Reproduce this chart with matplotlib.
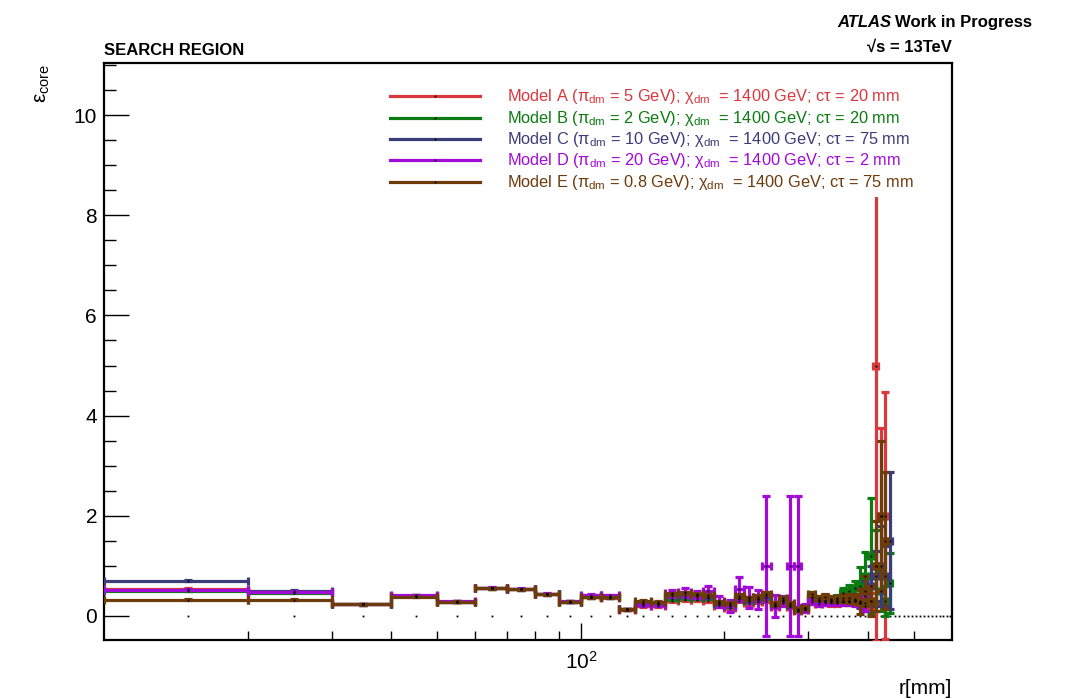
import numpy as np
import matplotlib
matplotlib.use("Agg")
import matplotlib.pyplot as plt
from matplotlib.ticker import FixedLocator, FixedFormatter, NullFormatter
from matplotlib.patches import Rectangle

plt.rcParams['font.family'] = ['Liberation Sans', 'DejaVu Sans']
plt.rcParams['mathtext.fontset'] = 'custom'
plt.rcParams['mathtext.rm'] = 'Liberation Sans'
plt.rcParams['mathtext.it'] = 'Liberation Sans:italic'
plt.rcParams['mathtext.bf'] = 'Liberation Sans:bold'

nan = np.nan

# binning: 10 mm bins, filled from 10 to 450 mm, axis up to 600 mm
edges = np.arange(10, 460, 10)
centers = (edges[:-1] + edges[1:]) / 2
all_centers = np.arange(15, 600, 10)

labels = [
    "Model A (\u03c0$_{\\rm dm}$ = 5 GeV); \u03c7$_{\\rm dm}$  = 1400 GeV; c\u03c4 = 20 mm",
    "Model B (\u03c0$_{\\rm dm}$ = 2 GeV); \u03c7$_{\\rm dm}$  = 1400 GeV; c\u03c4 = 20 mm",
    "Model C (\u03c0$_{\\rm dm}$ = 10 GeV); \u03c7$_{\\rm dm}$  = 1400 GeV; c\u03c4 = 75 mm",
    "Model D (\u03c0$_{\\rm dm}$ = 20 GeV); \u03c7$_{\\rm dm}$  = 1400 GeV; c\u03c4 = 2 mm",
    "Model E (\u03c0$_{\\rm dm}$ = 0.8 GeV); \u03c7$_{\\rm dm}$  = 1400 GeV; c\u03c4 = 75 mm",
]
colors = ['#d9383e', '#0b7c12', '#3b3d78', '#a20ad8', '#6e3b0b']

model_a = [0.54, 0.48, 0.23, 0.40, 0.28, 0.55, 0.53, 0.43, 0.28, 0.37,
           0.36, 0.12, 0.20, 0.20, 0.30, 0.32, 0.32, 0.30, 0.20, 0.15,
           0.30, 0.25, 0.28, 0.30, 0.18, 0.25, 0.18, 0.10, 0.12, 0.28,
           0.24, 0.25, 0.25, 0.25, 0.28, 0.28, 0.30, 0.25, 0.20, 0.30,
           5.00, 2.00, 2.00, nan]
err_a = [0.01, 0.01, 0.01, 0.01, 0.01, 0.01, 0.01, 0.01, 0.01, 0.01,
         0.01, 0.01, 0.02, 0.02, 0.02, 0.02, 0.02, 0.02, 0.02, 0.02,
         0.03, 0.03, 0.03, 0.03, 0.03, 0.03, 0.03, 0.03, 0.03, 0.04,
         0.04, 0.04, 0.05, 0.05, 0.06, 0.07, 0.08, 0.08, 0.10, 0.15,
         5.50, 1.75, 2.47, nan]

model_b = [0.50, 0.46, 0.23, 0.40, 0.28, 0.55, 0.53, 0.43, 0.28, 0.37,
           0.37, 0.13, 0.24, 0.24, 0.34, 0.36, 0.36, 0.36, 0.24, 0.20,
           0.34, 0.30, 0.32, 0.36, 0.22, 0.30, 0.22, 0.12, 0.15, 0.36,
           0.30, 0.30, 0.32, 0.35, 0.45, 0.50, 0.55, 0.60, 0.80, 1.20,
           1.00, 0.50, 0.30, 0.66]
err_b = [0.01, 0.01, 0.01, 0.01, 0.01, 0.01, 0.01, 0.01, 0.01, 0.01,
         0.01, 0.01, 0.02, 0.02, 0.02, 0.02, 0.02, 0.02, 0.02, 0.02,
         0.03, 0.03, 0.03, 0.03, 0.03, 0.03, 0.03, 0.03, 0.03, 0.04,
         0.04, 0.04, 0.05, 0.06, 0.10, 0.12, 0.15, 0.38, 0.48, 1.15,
         0.72, 0.40, 0.30, 0.60]

model_c = [0.70, 0.50, 0.23, 0.40, 0.28, 0.55, 0.53, 0.43, 0.28, 0.37,
           0.37, 0.13, 0.26, 0.25, 0.40, 0.40, 0.40, 0.38, 0.26, 0.22,
           0.36, 0.32, 0.34, 0.40, 0.22, 0.32, 0.22, 0.14, 0.16, 0.38,
           0.32, 0.30, 0.30, 0.30, 0.30, 0.30, 0.32, 0.25, 0.40, 0.60,
           0.80, 1.00, 0.80, 1.50]
err_c = [0.01, 0.01, 0.01, 0.01, 0.01, 0.01, 0.01, 0.01, 0.01, 0.01,
         0.01, 0.01, 0.02, 0.02, 0.02, 0.02, 0.02, 0.02, 0.02, 0.02,
         0.03, 0.03, 0.03, 0.03, 0.03, 0.03, 0.03, 0.03, 0.03, 0.04,
         0.04, 0.04, 0.05, 0.05, 0.06, 0.07, 0.08, 0.10, 0.30, 0.40,
         0.50, 0.80, 0.60, 1.37]

model_d = [0.52, 0.48, 0.23, 0.41, 0.29, 0.56, 0.54, 0.44, 0.29, 0.42,
           0.41, 0.13, 0.22, 0.22, 0.45, 0.47, 0.42, 0.50, 0.29, 0.20,
           0.54, 0.37, 0.33, 1.00, 0.20, 0.30, 1.00, 1.00, 0.15, 0.32,
           0.28, 0.30, 0.30, 0.30, 0.30, 0.30, 0.30, 0.30, 0.25, nan,
           nan, nan, nan, nan]
err_d = [0.01, 0.01, 0.01, 0.01, 0.01, 0.01, 0.01, 0.01, 0.01, 0.01,
         0.01, 0.01, 0.02, 0.02, 0.07, 0.09, 0.07, 0.10, 0.11, 0.12,
         0.24, 0.21, 0.19, 1.40, 0.22, 0.10, 1.40, 1.40, 0.08, 0.08,
         0.08, 0.08, 0.08, 0.08, 0.08, 0.09, 0.10, 0.12, 0.15, nan,
         nan, nan, nan, nan]

model_e = [0.32, 0.32, 0.23, 0.38, 0.28, 0.55, 0.53, 0.43, 0.28, 0.37,
           0.37, 0.13, 0.29, 0.27, 0.44, 0.45, 0.43, 0.42, 0.28, 0.25,
           0.40, 0.35, 0.38, 0.44, 0.25, 0.35, 0.25, 0.12, 0.16, 0.44,
           0.36, 0.38, 0.34, 0.34, 0.36, 0.35, 0.34, 0.28, 0.50, 0.30,
           1.00, 2.00, 1.50, nan]
err_e = [0.01, 0.01, 0.01, 0.01, 0.01, 0.01, 0.01, 0.01, 0.01, 0.01,
         0.01, 0.01, 0.02, 0.02, 0.02, 0.02, 0.02, 0.02, 0.02, 0.02,
         0.03, 0.03, 0.03, 0.03, 0.03, 0.03, 0.03, 0.03, 0.03, 0.04,
         0.04, 0.05, 0.05, 0.06, 0.08, 0.09, 0.10, 0.25, 0.30, 0.30,
         0.90, 1.50, 1.37, nan]

series = [(model_a, err_a), (model_b, err_b), (model_c, err_c),
          (model_d, err_d), (model_e, err_e)]

W, H = 1065, 699
fig = plt.figure(figsize=(W / 100, H / 100), dpi=100)
ax = fig.add_axes([104 / W, 1 - 640 / H, 848 / W, 577 / H])
ax.set_xscale('log')

# empty-bin markers along zero
ax.plot(all_centers, np.zeros(len(all_centers)), 's', color='black', ms=1.3, mew=0, zorder=2)

for (vals, errs), col in zip(series, colors):
    v = np.array(vals)
    e = np.array(errs)
    m = ~np.isnan(v)
    ax.errorbar(centers[m], v[m], xerr=5, yerr=e[m], fmt='none', ecolor=col,
                elinewidth=2.3, capsize=2.6, capthick=2.3, zorder=3)
    ax.plot(centers[m], v[m], 's', color='black', ms=1.3, mew=0, zorder=4)

ax.set_xlim(10, 600)
ax.set_ylim(-0.48, 11.04)

ax.xaxis.set_major_locator(FixedLocator([100]))
ax.xaxis.set_major_formatter(FixedFormatter([r'$10^{2}$']))
ax.xaxis.set_minor_locator(FixedLocator([20, 30, 40, 50, 60, 70, 80, 90, 200, 300, 400, 500]))
ax.xaxis.set_minor_formatter(NullFormatter())
ax.yaxis.set_major_locator(FixedLocator([0, 2, 4, 6, 8, 10]))
ax.yaxis.set_minor_locator(FixedLocator(np.arange(-0.5, 11.01, 0.5)))

ax.tick_params(axis='both', which='both', direction='in', top=False, right=False,
               width=1.0, labelsize=15)
ax.tick_params(axis='y', which='major', length=18, pad=5)
ax.tick_params(axis='y', which='minor', length=8.5)
ax.tick_params(axis='x', which='major', length=12, pad=8)
ax.tick_params(axis='x', which='minor', length=6.5)
for s in ax.spines.values():
    s.set_linewidth(1.6)

# legend (white box drawn over the plot)
ax.add_patch(Rectangle((0.322, 0.768), 0.66, 0.2, transform=ax.transAxes,
                       facecolor='white', edgecolor='none', zorder=10))
rows = [96, 118, 139, 160, 182]
for lab, col, ry in zip(labels, colors, rows):
    fy = (640 - ry) / 577
    ax.plot([(390 - 104) / 848, (480 - 104) / 848], [fy, fy], color=col, lw=2.3,
            transform=ax.transAxes, zorder=11, clip_on=False)
    ax.plot([(435 - 104) / 848], [fy], 's', color='black', ms=1.3, mew=0,
            transform=ax.transAxes, zorder=12, clip_on=False)
    ax.text((507 - 104) / 848, (640 - ry - 5) / 577, lab, color=col, fontsize=11.8,
            ha='left', va='baseline', transform=ax.transAxes, zorder=12)

# titles and labels
fig.text(104 / W, 1 - 55 / H, 'SEARCH REGION', fontsize=12, fontweight='bold',
         ha='left', va='baseline')
r = fig.canvas.get_renderer()
t = fig.text(1032 / W, 1 - 27 / H, 'Work in Progress', fontsize=12, fontweight='bold',
             ha='right', va='baseline')
bb = t.get_window_extent(r)
fig.text((bb.x0 - 4) / W, 1 - 27 / H, 'ATLAS', fontsize=12, fontweight='bold',
         style='italic', ha='right', va='baseline')
fig.text(952 / W, 1 - 52 / H, '\u221as = 13TeV', fontsize=12, fontweight='bold',
         ha='right', va='baseline')
fig.text(952 / W, 1 - 694 / H, 'r[mm]', fontsize=15, ha='right', va='baseline')
fig.text(42 / W, 1 - 64 / H, '\u03b5$_{\\rm core}$', fontsize=15, rotation=90,
         ha='center', va='top')

fig.savefig('out.png', dpi=100)
